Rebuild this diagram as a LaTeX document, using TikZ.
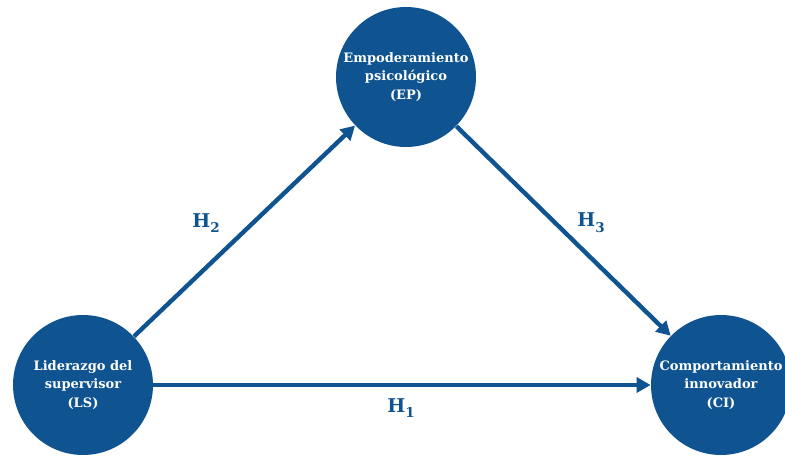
\documentclass[tikz,border=0pt]{standalone}
\usepackage{fontspec}
\setmainfont{DejaVu Serif}
\usepackage{xcolor}
\usetikzlibrary{arrows.meta,positioning}
\definecolor{azul}{RGB}{15,84,145}
\newcommand{\hsub}[1]{H\raisebox{-0.3em}{\fontsize{13.5}{13.5}\selectfont #1}}

\begin{document}
\begin{tikzpicture}[x=1pt, y=1pt, thick,
    var/.style={circle, fill=azul, text=white, minimum size=140pt, inner sep=0pt,
        align=center, font=\bfseries\fontsize{13}{18.5}\selectfont},
    rel/.style={draw=azul, line width=4.4pt, -{Triangle[length=14pt, width=15pt]}},
    hip/.style={text=azul, font=\bfseries\fontsize{19}{20}\selectfont}]
        \useasboundingbox (0,0) rectangle (785,456);

        % Variables
        \node[var] (EP) at (406,379) {Empoderamiento\\psicológico\\(EP)};
        \node[var] (LS) at (83,71) {Liderazgo del\\supervisor\\(LS)};
        \node[var] (CI) at (721,71) {Comportamiento\\innovador\\(CI)};

        % Hipotesis
        \draw[rel] (LS) -- (EP);
        \draw[rel] (EP) -- (CI);
        \draw[rel] (LS) -- (CI);

        \node[hip] (H2) at (206,233) {\hsub{2}};
        \node[hip] (H3) at (591,233) {\hsub{3}};
        \node[hip] (H1) at (401,48) {\hsub{1}};
    \end{tikzpicture}
\end{document}
